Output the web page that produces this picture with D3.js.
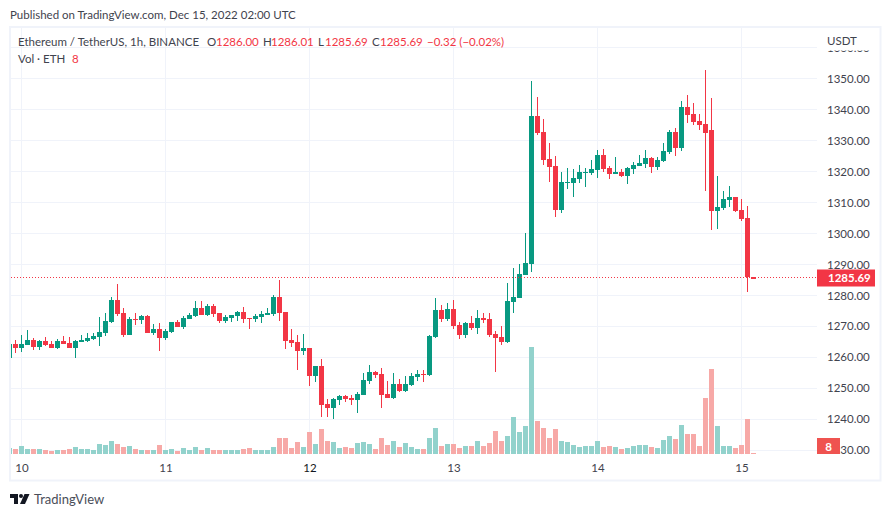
<!DOCTYPE html>
<html>
<head>
<meta charset="utf-8">
<script src="https://cdn.jsdelivr.net/npm/d3@7"></script>
<style>
    html, body { margin: 0; padding: 0; background: #fff; }
    svg { display: block; }
    text { font-family: Lato, sans-serif; font-size: 11.5px; fill: #3f434e; }
    .tick text { font-family: Lato, sans-serif; font-size: 11.5px; }
</style>
</head>
<body>
<div id="chart"></div>
<script>
const svgWidth = 891;
const svgHeight = 517;

// hourly candles, first one is Dec 9 22:00 UTC, last one Dec 15 02:00 UTC
const opens = [1259.8,1264.3,1263.0,1264.0,1265.6,1263.3,1265.3,1264.3,1263.0,1265.3,1264.6,1263.0,1264.9,1265.3,1265.9,1266.5,1267.8,1271.4,1278.5,1274.3,1267.2,1272.4,1272.0,1273.3,1267.8,
    1269.1,1266.2,1268.2,1271.4,1269.8,1272.4,1273.3,1275.9,1273.6,1276.6,1274.3,1271.7,1272.7,1273.3,1274.6,1272.7,1272.4,1273.0,1273.6,1274.0,1279.5,1274.6,1265.6,1264.9,1262.0,
    1263.0,1253.9,1257.2,1244.9,1243.6,1246.2,1247.5,1246.8,1246.2,1247.8,1252.3,1255.2,1254.6,1248.1,1246.8,1251.3,1249.1,1251.0,1253.6,1254.6,1254.3,1266.5,1275.3,1272.4,1275.6,
    1270.4,1267.2,1271.1,1269.5,1272.7,1272.4,1267.5,1266.5,1264.9,1277.9,1279.1,1286.6,1290.1,1338.0,1332.8,1324.0,1321.8,1307.6,1316.3,1316.3,1317.6,1319.5,1319.5,1320.5,1325.4,
    1321.2,1319.2,1319.8,1318.6,1320.8,1321.8,1322.4,1324.4,1321.5,1323.4,1326.3,1332.8,1327.6,1340.9,1338.6,1336.3,1335.4,1333.4,1307.2,1308.2,1310.8,1311.8,1307.6,1305.0,1286.00];
const highs = [1264.3,1265.6,1267.2,1268.8,1266.2,1265.6,1266.5,1265.3,1265.9,1266.9,1266.5,1265.6,1267.2,1267.8,1267.8,1273.0,1274.3,1279.5,1283.7,1275.9,1273.0,1274.3,1273.6,1273.6,1270.7,
    1271.1,1269.1,1271.4,1272.0,1273.3,1274.3,1278.2,1278.2,1277.2,1277.2,1274.3,1273.6,1273.6,1274.9,1276.2,1272.7,1274.0,1274.9,1275.9,1280.1,1285.0,1274.6,1269.1,1267.2,1267.5,
    1263.0,1257.2,1259.4,1246.5,1246.8,1247.8,1247.8,1247.8,1248.8,1254.9,1257.5,1255.6,1256.5,1252.3,1254.9,1253.0,1253.9,1254.9,1255.9,1255.9,1267.2,1279.1,1276.9,1277.5,1278.5,
    1271.4,1271.4,1273.3,1275.3,1274.3,1274.3,1268.5,1270.1,1284.0,1288.8,1290.1,1300.1,1349.3,1344.1,1337.0,1329.2,1325.0,1319.8,1321.2,1320.8,1322.1,1321.2,1323.7,1327.0,1327.3,
    1321.8,1324.7,1320.8,1321.5,1323.1,1325.4,1327.0,1324.7,1324.7,1329.2,1333.4,1334.1,1342.8,1344.7,1342.1,1338.6,1352.9,1343.8,1318.6,1313.7,1315.3,1311.8,1311.1,1308.9,1286.01];
const lows = [1259.8,1261.4,1261.7,1264.0,1262.3,1262.3,1263.6,1263.0,1262.7,1264.3,1263.0,1259.8,1264.9,1264.9,1265.6,1263.6,1266.9,1271.1,1273.3,1266.5,1267.2,1270.4,1270.7,1267.8,1267.2,
    1262.0,1265.6,1267.8,1269.8,1269.1,1272.4,1273.0,1273.6,1273.3,1273.0,1271.1,1271.1,1271.4,1271.7,1271.1,1269.1,1271.4,1271.1,1273.6,1273.3,1271.7,1262.7,1263.3,1255.9,1260.7,
    1250.7,1252.0,1240.7,1240.7,1240.0,1244.6,1245.5,1244.6,1242.0,1247.8,1251.3,1253.3,1243.6,1246.8,1246.5,1248.8,1248.8,1250.7,1252.3,1252.0,1253.9,1266.2,1271.4,1271.7,1269.1,
    1265.9,1266.2,1268.8,1267.5,1271.1,1266.5,1255.2,1264.0,1264.6,1274.3,1279.1,1286.6,1287.5,1331.8,1322.1,1316.6,1305.3,1306.6,1314.4,1311.8,1316.3,1315.0,1318.9,1317.9,1319.8,
    1317.6,1319.2,1318.2,1316.0,1319.2,1321.8,1321.2,1319.5,1320.5,1323.1,1325.7,1325.0,1326.6,1335.7,1335.0,1333.4,1313.7,1301.1,1301.4,1307.6,1308.5,1306.9,1304.0,1281.1,1285.69];
const closes = [1264.3,1263.0,1264.3,1265.6,1263.3,1265.3,1264.0,1263.0,1265.3,1264.3,1263.0,1265.3,1265.6,1266.2,1266.9,1268.2,1271.7,1278.5,1274.0,1267.2,1272.4,1272.0,1273.3,1267.8,1269.1,
    1266.2,1268.5,1271.4,1269.8,1272.7,1273.6,1275.9,1273.6,1276.6,1274.0,1271.7,1273.0,1273.6,1274.6,1272.4,1272.4,1273.3,1274.0,1274.3,1279.5,1274.3,1265.3,1264.6,1262.0,1263.0,
    1253.9,1257.2,1244.6,1243.6,1246.5,1247.5,1246.5,1246.2,1248.1,1252.6,1255.2,1254.3,1247.8,1246.8,1251.3,1249.1,1251.3,1253.9,1254.6,1254.3,1266.9,1275.3,1272.4,1275.6,1270.1,
    1267.2,1271.1,1269.5,1272.7,1272.0,1267.2,1266.2,1264.9,1278.2,1279.5,1286.9,1290.4,1338.0,1332.5,1323.7,1321.5,1307.6,1316.6,1316.6,1317.9,1319.8,1319.8,1320.8,1325.4,1320.8,
    1319.2,1319.8,1318.6,1321.2,1322.1,1322.8,1324.4,1321.5,1323.7,1326.6,1332.8,1327.6,1340.9,1338.3,1336.0,1335.0,1332.5,1307.2,1308.5,1311.1,1311.8,1307.2,1304.7,1286.0,1285.69];
// volume in ETH (last one is the live value)
const volumes = [6000,5000,8000,5000,5000,5000,4000,3000,4000,4000,5000,7000,5000,5000,4000,10000,9000,13000,10000,7000,8000,5000,4000,4000,4000,
    9000,4000,5000,3000,6000,4000,7000,4000,6000,4000,4000,4000,4000,4000,5000,6000,4000,4000,4000,7000,16000,16000,6000,12000,7000,
    22000,10000,25000,13000,12000,6000,7000,6000,11000,12000,10000,5000,16000,9000,13000,7000,11000,7000,5000,5000,16000,26000,8000,10000,10000,
    6000,8000,8000,13000,8000,11000,23000,13000,18000,37000,22000,28000,107000,33000,26000,16000,25000,13000,12000,9000,7000,8000,8000,13000,7000,
    8000,7000,5000,6000,8000,9000,9000,7000,6000,14000,18000,15000,29000,20000,20000,8000,56000,85000,28000,8000,8000,6000,9000,35000,8];

const firstHour = new Date(Date.UTC(2022, 11, 9, 22));
const lastHour = new Date(Date.UTC(2022, 11, 15, 2));
const hours = d3.utcHour.range(firstHour, d3.utcHour.offset(lastHour, 1));

const priceTicks = [1230, 1240, 1250, 1260, 1270, 1280, 1290, 1300, 1310, 1320, 1330, 1340, 1350, 1360];
const dayTicks = [10, 11, 12, 13, 14, 15].map(d => new Date(Date.UTC(2022, 11, d)));
const lastPrice = 1285.69;
const lastVolume = 8;

const upColor = '#089981';
const downColor = '#f23645';

const plot = { left: 10.5, right: 817, top: 27.5, bottom: 454.5 };

const svg = d3.select('#chart')
    .append('svg')
    .attr('width', svgWidth)
    .attr('height', svgHeight);

const defs = svg.append('defs');
defs.append('clipPath').attr('id', 'plotClip').append('rect')
    .attr('x', plot.left).attr('y', plot.top)
    .attr('width', plot.right - plot.left).attr('height', plot.bottom - plot.top);
defs.append('clipPath').attr('id', 'axisClip').append('rect')
    .attr('x', plot.right).attr('y', 50.5)
    .attr('width', 60).attr('height', plot.bottom - 50.5);

// scales
const x = d3.scaleUtc().domain([firstHour, lastHour]).range([9.5, 753.5]);
const y = d3.scaleLinear().domain([1230, 1350]).range([450.05, 78.7]);
const yVol = d3.scaleLinear().domain([0, 107000]).range([454, 347]);

// grid
const grid = svg.append('g').attr('stroke', '#f0f3fa').attr('stroke-width', 1);
grid.selectAll('.hGrid')
    .data(priceTicks)
    .enter()
    .append('line')
    .attr('x1', plot.left).attr('x2', plot.right)
    .attr('y1', d => Math.floor(y(d)) + 0.5)
    .attr('y2', d => Math.floor(y(d)) + 0.5);
grid.selectAll('.vGrid')
    .data(dayTicks)
    .enter()
    .append('line')
    .attr('x1', d => x(d)).attr('x2', d => x(d))
    .attr('y1', plot.top).attr('y2', plot.bottom);

const candles = hours.map((t, i) => ({
    t, open: opens[i], high: highs[i], low: lows[i], close: closes[i], volume: volumes[i]
}));
const isUp = d => d.close >= d.open;

const plotGroup = svg.append('g').attr('clip-path', 'url(#plotClip)');

// volume bars
plotGroup.selectAll('.vol')
    .data(candles)
    .enter()
    .append('rect')
    .attr('x', d => x(d.t) - 2.5)
    .attr('width', 5)
    .attr('y', d => yVol(d.volume) > 453 ? 453 : Math.round(yVol(d.volume)))
    .attr('height', d => yVol(d.volume) > 453 ? 1 : 454 - Math.round(yVol(d.volume)))
    .attr('fill', d => isUp(d) ? '#92d2cc' : '#f7a9a7');

// wicks
plotGroup.selectAll('.wick')
    .data(candles)
    .enter()
    .append('rect')
    .attr('x', d => x(d.t) - 0.5)
    .attr('width', 1)
    .attr('y', d => Math.round(y(d.high)))
    .attr('height', d => Math.max(1, Math.round(y(d.low)) - Math.round(y(d.high))))
    .attr('fill', d => isUp(d) ? upColor : downColor);

// bodies, the live candle is drawn 2px thick like the original
plotGroup.selectAll('.body')
    .data(candles)
    .enter()
    .append('rect')
    .attr('x', d => x(d.t) - 2.5)
    .attr('width', 5)
    .attr('y', d => Math.round(y(Math.max(d.open, d.close))))
    .attr('height', (d, i) => Math.max(i === candles.length - 1 ? 2 : 1,
        Math.round(y(Math.min(d.open, d.close))) - Math.round(y(Math.max(d.open, d.close)))))
    .attr('fill', d => isUp(d) ? upColor : downColor);

// last price line
svg.append('line')
    .attr('x1', 11).attr('x2', plot.right)
    .attr('y1', Math.floor(y(lastPrice)) + 0.5).attr('y2', Math.floor(y(lastPrice)) + 0.5)
    .attr('stroke', downColor)
    .attr('stroke-dasharray', '1 2');

// price axis
const priceAxis = d3.axisRight(y)
    .tickValues(priceTicks)
    .tickSize(0)
    .tickPadding(10)
    .tickFormat(d3.format('.2f'));
const priceAxisClip = svg.append('g').attr('clip-path', 'url(#axisClip)');
const priceAxisGroup = priceAxisClip.append('g')
    .attr('transform', `translate(${plot.right}, 0)`)
    .call(priceAxis);
priceAxisGroup.select('.domain').remove();

// time axis
const timeAxis = d3.axisBottom(x)
    .tickValues(dayTicks)
    .tickSize(0)
    .tickPadding(9)
    .tickFormat(d3.utcFormat('%-d'));
const timeAxisGroup = svg.append('g')
    .attr('transform', `translate(0, ${plot.bottom})`)
    .call(timeAxis);
timeAxisGroup.select('.domain').remove();
// day 12 is drawn darker in the original
timeAxisGroup.selectAll('text')
    .style('fill', d => d.getUTCDate() === 12 ? '#131722' : '#3f434e');

// value tags on the price scale
svg.append('rect')
    .attr('x', plot.right).attr('y', Math.round(y(lastPrice)) - 8.5)
    .attr('width', 58).attr('height', 17)
    .attr('fill', downColor);
svg.append('text')
    .attr('x', 828).attr('y', y(lastPrice) + 4.5)
    .style('fill', '#fff').style('font-weight', 700)
    .text(d3.format('.2f')(lastPrice));
svg.append('rect')
    .attr('x', plot.right).attr('y', 438)
    .attr('width', 23).attr('height', 16)
    .attr('fill', '#ef5350');
svg.append('text')
    .attr('x', 828.5).attr('y', 450.5)
    .attr('text-anchor', 'middle')
    .style('fill', '#fff').style('font-weight', 700)
    .text(lastVolume);

svg.append('text').attr('x', 827).attr('y', 45).text('USDT');

// frame around the chart
svg.append('rect')
    .attr('x', 10).attr('y', 27)
    .attr('width', 870.5).attr('height', 453.5)
    .attr('fill', 'none')
    .attr('stroke', '#f0f3fa')
    .attr('stroke-width', 2);

// header and legend text
svg.append('text').attr('x', 10).attr('y', 19).text('Published on TradingView.com, Dec 15, 2022 02:00 UTC');

const legendRow = [
    { px: 18, label: 'Ethereum / TetherUS, 1h, BINANCE', red: false },
    { px: 207, label: 'O', red: false },
    { px: 216, label: '1286.00', red: true },
    { px: 263, label: 'H', red: false },
    { px: 271, label: '1286.01', red: true },
    { px: 318, label: 'L', red: false },
    { px: 325, label: '1285.69', red: true },
    { px: 372, label: 'C', red: false },
    { px: 380, label: '1285.69', red: true },
    { px: 427, label: '\u22120.32 (\u22120.02%)', red: true }
];
svg.selectAll('.legend')
    .data(legendRow)
    .enter()
    .append('text')
    .attr('x', d => d.px)
    .attr('y', 46)
    .style('fill', d => d.red ? downColor : '#3f434e')
    .text(d => d.label);
svg.append('text').attr('x', 18).attr('y', 63).text('Vol \u00b7 ETH');
svg.append('text').attr('x', 72).attr('y', 63).style('fill', downColor).text(lastVolume);

// logo
const logo = svg.append('g').attr('fill', '#131722');
logo.append('path').attr('d', 'M10 494h8v10h-4v-6h-4z');
logo.append('circle').attr('cx', 21).attr('cy', 496).attr('r', 2);
logo.append('path').attr('d', 'M24.5 494h5l-4.5 10h-5z');
svg.append('text')
    .attr('x', 34).attr('y', 504)
    .style('font-size', '13px')
    .style('fill', '#4a4e59')
    .text('TradingView');
</script>
</body>
</html>
